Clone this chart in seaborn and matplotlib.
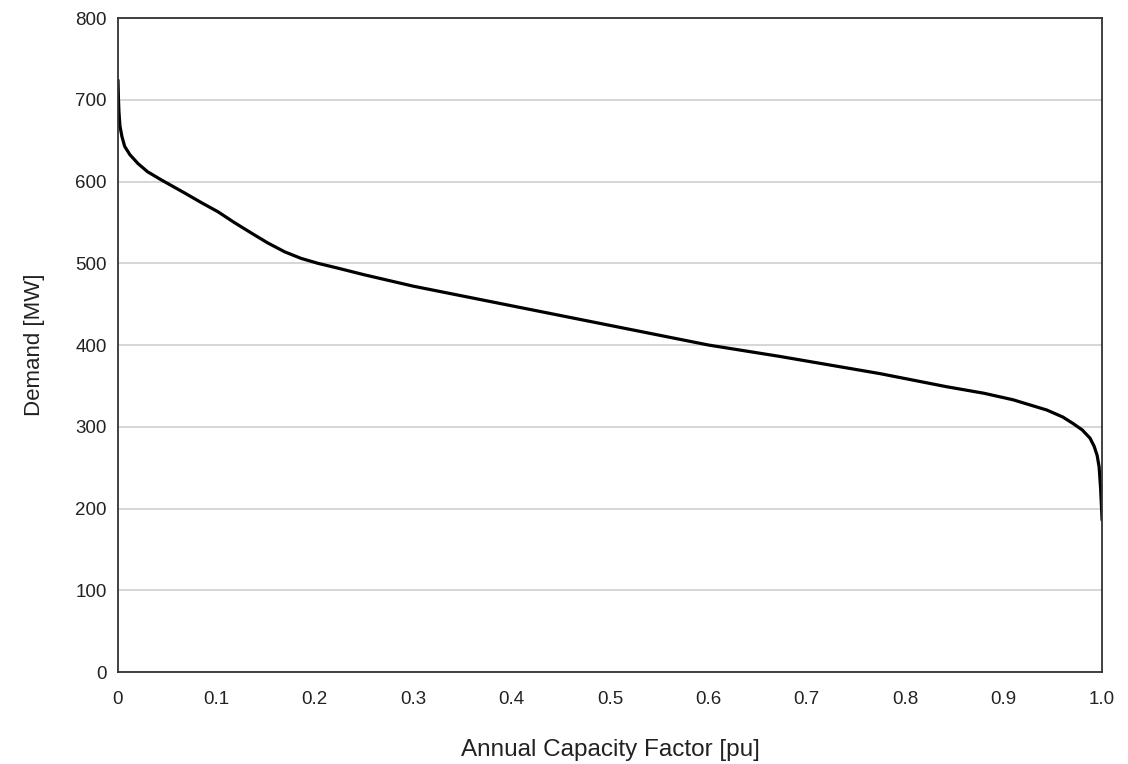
import numpy as np
import pandas as pd
import seaborn as sns
import matplotlib
matplotlib.use("Agg")
import matplotlib.pyplot as plt

# load duration curve
capacity_factor = [0.0, 0.0005, 0.001, 0.002, 0.004, 0.0068, 0.012, 0.0203, 0.03, 0.044,
                   0.0677, 0.085, 0.1016, 0.118, 0.1355, 0.152, 0.1694, 0.186, 0.203, 0.2236,
                   0.25, 0.3, 0.35, 0.4, 0.45, 0.5, 0.55, 0.6, 0.6728, 0.7744,
                   0.842, 0.88, 0.9096, 0.9438, 0.96, 0.9705, 0.98, 0.9878, 0.992, 0.995,
                   0.997, 0.9985, 0.9995, 1.0]
demand_mw = [724, 700, 685, 668, 655, 643, 633, 622, 612, 602,
             586, 574, 563, 550, 537, 525, 514, 506, 500, 494,
             486, 472, 460, 448, 436, 424, 412, 400, 386, 365,
             349, 341, 333, 320.5, 312, 304, 296, 286, 276, 265,
             251, 225, 200, 186]

x_ticks = [0, 0.1, 0.2, 0.3, 0.4, 0.5, 0.6, 0.7, 0.8, 0.9, 1.0]
x_tick_labels = ["0", "0.1", "0.2", "0.3", "0.4", "0.5", "0.6", "0.7", "0.8", "0.9", "1.0"]
y_ticks = [0, 100, 200, 300, 400, 500, 600, 700, 800]

df = pd.DataFrame({"cf": capacity_factor, "demand": demand_mw})

sns.set_style("white")
plt.rcParams["font.family"] = ["Liberation Sans", "DejaVu Sans"]

fig = plt.figure(figsize=(11.28, 7.64), dpi=100)
ax = fig.add_axes([0.1046, 0.1204, 0.8724, 0.856])

sns.lineplot(data=df, x="cf", y="demand", color="black", linewidth=2.3, ax=ax)

ax.set_xlim(0, 1.0)
ax.set_ylim(0, 800)
ax.set_xticks(x_ticks)
ax.set_xticklabels(x_tick_labels)
ax.set_yticks(y_ticks)
ax.yaxis.grid(True, color="#d0d0d0", linewidth=1.2)
ax.xaxis.grid(False)
ax.set_axisbelow(True)

for s in ax.spines.values():
    s.set_color("#333333")
    s.set_linewidth(1.3)

ax.tick_params(axis="both", labelsize=13.5, colors="#222222", length=5, width=1, direction="out",
               color="#999999")
ax.tick_params(axis="x", pad=9)
ax.tick_params(axis="y", pad=3)

ax.set_xlabel("Annual Capacity Factor [pu]", fontsize=17.5, color="#222222", labelpad=22)
ax.set_ylabel("Demand [MW]", fontsize=16, color="#222222", labelpad=22)

fig.savefig("out.png", dpi=100)
